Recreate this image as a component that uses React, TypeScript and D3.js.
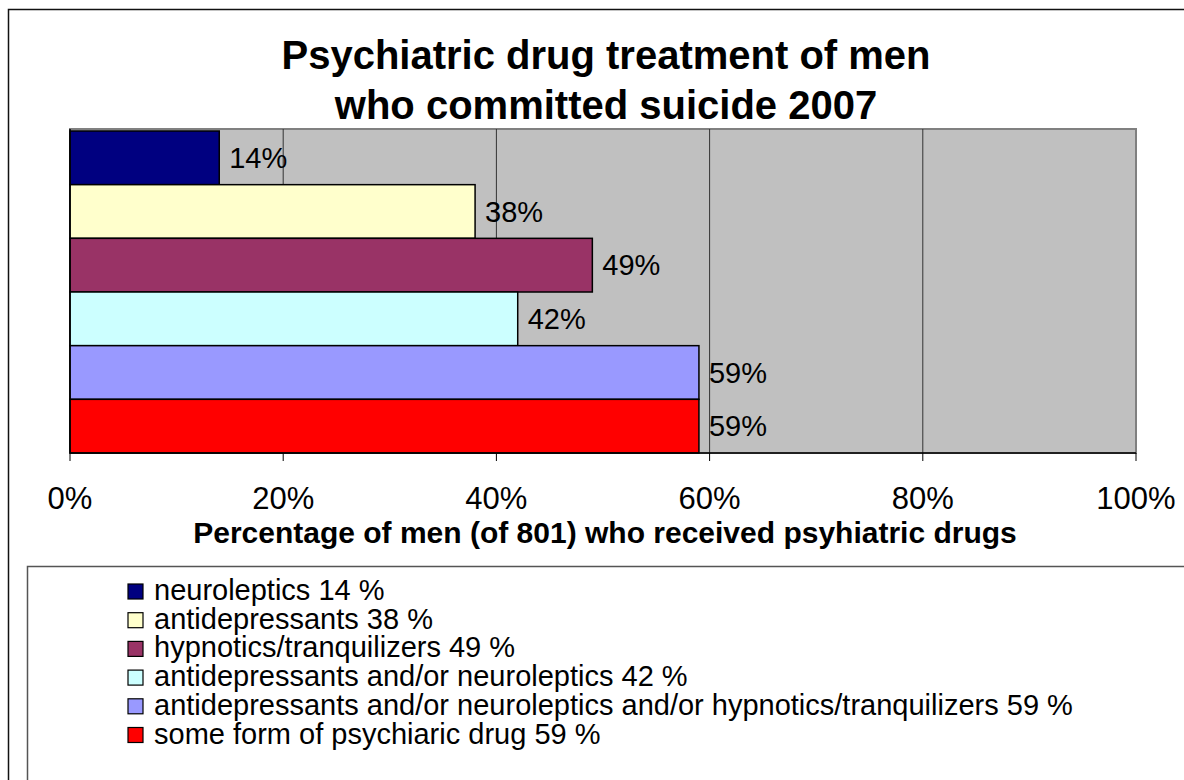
import React from "react";
import * as d3 from "d3";

const categories = [
  "neuroleptics",
  "antidepressants",
  "hypnotics/tranquilizers",
  "antidepressants and/or neuroleptics",
  "antidepressants and/or neuroleptics and/or hypnotics/tranquilizers",
  "some form of psychiaric drug",
];
const values = [14, 38, 49, 42, 59, 59];
const colors = ["#000080", "#FFFFCC", "#993366", "#CCFFFF", "#9999FF", "#FF0000"];
const ticks = [0, 20, 40, 60, 80, 100];
const titleLines = ["Psychiatric drug treatment of men", "who committed suicide 2007"];
const axisTitle = "Percentage of men (of 801) who received psyhiatric drugs";

const FONT = "Arial, 'Liberation Sans', sans-serif";

export default function App() {
  const W = 1184, H = 780;
  const plot = { left: 70, right: 1136, top: 129, bottom: 453 };
  const x = d3.scaleLinear().domain([0, 100]).range([plot.left, plot.right]);
  const y = d3.scaleBand<number>().domain(d3.range(categories.length)).range([131, plot.bottom]).padding(0);

  return (
    <svg width={W} height={H} style={{ position: "absolute", left: 0, top: 0 }} fontFamily={FONT}>
      <rect x={0} y={0} width={W} height={H} fill="#fff" />
      <rect x={8.5} y={9.5} width={W + 20} height={H + 20} fill="none" stroke="#111" strokeWidth={1.5} />
      {titleLines.map((t, i) => (
        <text key={i} x={606} y={69 + i * 50} textAnchor="middle" fontWeight="bold" fontSize={40} fill="#000">
          {t}
        </text>
      ))}
      <rect x={plot.left} y={plot.top} width={plot.right - plot.left} height={plot.bottom - plot.top} fill="#C0C0C0" stroke="#808080" strokeWidth={2} />
      {ticks.slice(1, -1).map((t) => (
        <line key={t} x1={x(t)} x2={x(t)} y1={plot.top} y2={plot.bottom} stroke="#333" strokeWidth={1} />
      ))}
      {values.map((v, i) => (
        <g key={i}>
          <rect x={x(0)} y={y(i)!} width={x(v) - x(0)} height={y.bandwidth()} fill={colors[i]} stroke="#000" strokeWidth={1.5} />
          <text x={x(v) + 10} y={y(i)! + y.bandwidth() / 2} dominantBaseline="central" fontSize={29} fill="#000">
            {v}%
          </text>
        </g>
      ))}
      <line x1={plot.left} x2={plot.left} y1={plot.top} y2={plot.bottom} stroke="#000" strokeWidth={1.5} />
      <line x1={plot.left} x2={plot.right} y1={plot.bottom} y2={plot.bottom} stroke="#000" strokeWidth={1.5} />
      {ticks.map((t) => (
        <g key={t}>
          <line x1={x(t)} x2={x(t)} y1={plot.bottom} y2={plot.bottom + 8} stroke="#000" strokeWidth={1} />
          <text x={x(t)} y={509} textAnchor="middle" fontSize={31} fill="#000">
            {t}%
          </text>
        </g>
      ))}
      <text x={605} y={543} textAnchor="middle" fontWeight="bold" fontSize={30} fill="#000">
        {axisTitle}
      </text>
      <rect x={27.5} y={566.5} width={W + 20} height={H} fill="#fff" stroke="#555" strokeWidth={1.5} />
      {categories.map((c, i) => (
        <g key={i}>
          <rect x={128} y={584 + i * 28.7} width={15} height={15} fill={colors[i]} stroke="#000" strokeWidth={1.2} />
          <text x={154} y={600 + i * 28.7} fontSize={29} fill="#000">
            {c} {values[i]} %
          </text>
        </g>
      ))}
    </svg>
  );
}
